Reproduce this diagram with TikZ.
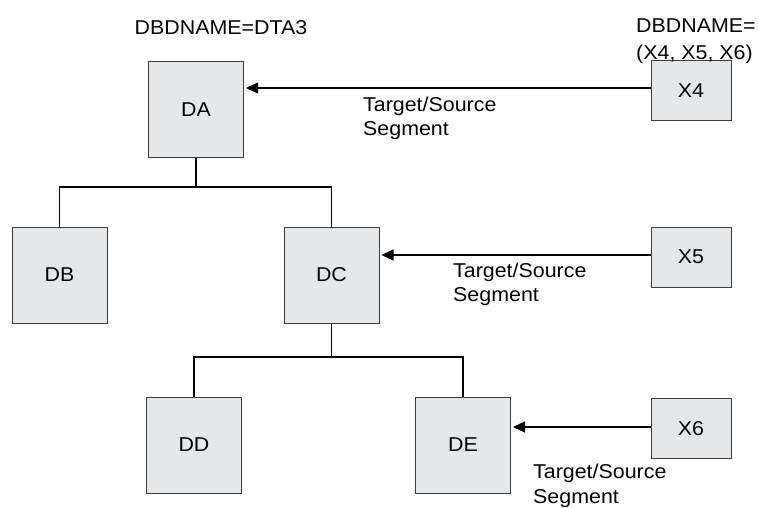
\documentclass[tikz,border=0pt]{standalone}
\usepackage{fontspec}
\setmainfont{Liberation Sans}[FakeStretch=1.07]
\usetikzlibrary{arrows.meta,calc}
\definecolor{boxfill}{HTML}{E6E7E8}
\definecolor{boxline}{HTML}{3C3C3C}
\begin{document}
\begin{tikzpicture}[x=1pt,y=-1pt,
  font=\fontsize{20}{24.5}\selectfont,
  seg/.style={draw=boxline, fill=boxfill, line width=1pt, inner sep=0pt, minimum width=95pt, minimum height=96pt},
  ext/.style={draw=boxline, fill=boxfill, line width=1pt, inner sep=0pt, minimum width=80pt, minimum height=60pt},
  tree/.style={draw=black, line width=1.1pt},
  link/.style={draw=black, line width=1.1pt, -{Triangle[length=12pt,width=11pt]}, shorten >=2pt},
  lbl/.style={inner sep=0pt, align=left, anchor=north west}
]
\useasboundingbox (0,0) rectangle (758,508);

% segments
\node[seg] (DA) at (196,109.5) {DA};
\node[seg] (DB) at (59.5,275) {DB};
\node[seg] (DC) at (331.5,275) {DC};
\node[seg] (DD) at (194,445) {DD};
\node[seg] (DE) at (463,445) {DE};

\node[ext] (X4) at (691,91) {X4};
\node[ext] (X5) at (691,257) {X5};
\node[ext] (X6) at (691,428.5) {X6};

% tree
\coordinate (bar1) at (0,187);
\coordinate (bar2) at (0,357);
\draw[tree] (DA.south) -- (DA.south |- bar1);
\draw[tree] (DB.north) |- (bar1 -| DC.north) -- (DC.north);
\draw[tree] (DC.south) -- (DC.south |- bar2);
\draw[tree] (DD.north) |- (bar2 -| DE.north) -- (DE.north);

% links
\draw[link] ([yshift=3pt]X4.west) -- ([yshift=3pt]X4.west -| DA.east);
\draw[link] ([yshift=2pt]X5.west) -- ([yshift=2pt]X5.west -| DC.east);
\draw[link] ([yshift=1.5pt]X6.west) -- ([yshift=1.5pt]X6.west -| DE.east);

% texts
\node[anchor=base, inner sep=0pt] (dbda) at (221,34.7) {DBDNAME=DTA3};
\node[lbl] (dbdx) at (636,18.2) {DBDNAME=\\[2.5pt](X4, X5, X6)};
\node[lbl] (l1) at (363,96.7) {Target/Source\\Segment};
\node[lbl] (l2) at (453,262.7) {Target/Source\\Segment};
\node[lbl] (l3) at (533,464) {Target/Source\\Segment};
\end{tikzpicture}
\end{document}
